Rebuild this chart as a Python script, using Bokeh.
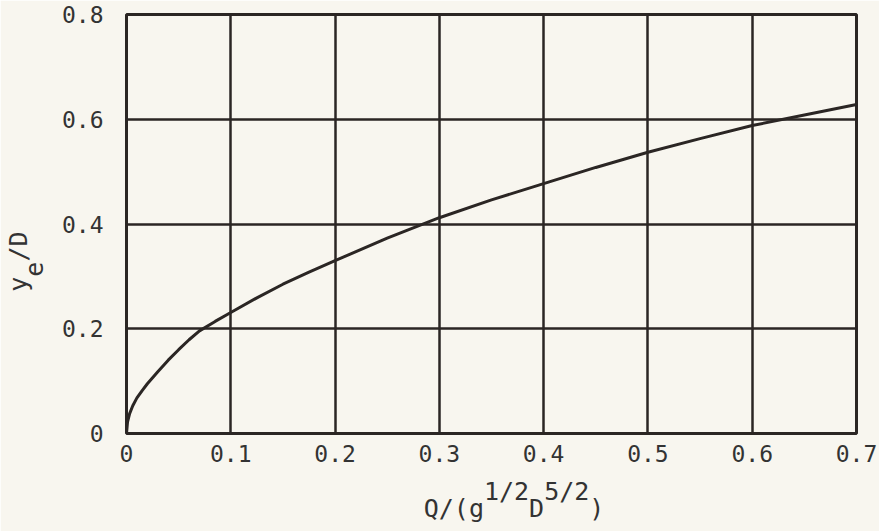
from bokeh.plotting import figure
from bokeh.models import Range1d, FixedTicker, CustomJSTickFormatter
from bokeh.embed import file_html
from bokeh.resources import INLINE

# Data
q_values = [0.0, 0.001, 0.003, 0.006, 0.01, 0.015, 0.02, 0.03, 0.04, 0.05, 0.06, 0.07,
            0.085, 0.10, 0.125, 0.15, 0.175, 0.20, 0.25, 0.30, 0.35, 0.40, 0.45,
            0.50, 0.55, 0.60, 0.65, 0.70]
ye_values = [0.0, 0.022, 0.038, 0.053, 0.068, 0.082, 0.095, 0.118, 0.140, 0.160, 0.179, 0.196,
             0.214, 0.231, 0.259, 0.285, 0.308, 0.330, 0.373, 0.412, 0.446, 0.477, 0.508,
             0.537, 0.563, 0.588, 0.608, 0.628]
x_ticks = [0.0, 0.1, 0.2, 0.3, 0.4, 0.5, 0.6, 0.7]
y_ticks = [0.0, 0.2, 0.4, 0.6, 0.8]

NB = "\u00a0"
# x title Q/(g^{1/2} D^{5/2}): superscript line above the main line (monospaced columns)
x_title_sup = NB * 3 + NB * 4 + "1/2" + NB + "5/2" + NB
x_title_main = NB * 3 + "Q/(g" + NB * 3 + "D" + NB * 3 + ")"
# y title y_e/D: main line, then subscript line (rotated)
y_title_main = "y" + NB + "/D" + NB * 5
y_title_sub = NB + "e" + NB * 2 + NB * 5

BG = "#f8f6ef"
INK = "#2b2624"
FONT = "DejaVu Sans Mono"
FS = "23px"
TFS = "25px"
TXT = "#333333"

p = figure(width=879, height=531, output_backend="svg", toolbar_location=None,
           x_range=Range1d(0, 0.7), y_range=Range1d(0, 0.8),
           min_border_left=126, min_border_right=23, min_border_top=14, min_border_bottom=98)
p.background_fill_color = BG
p.border_fill_color = BG
p.outline_line_color = INK
p.outline_line_width = 3

fmt = CustomJSTickFormatter(code="return tick == 0 ? '0' : tick.toFixed(1);")
for ax, ticks in ((p.xaxis[0], x_ticks), (p.yaxis[0], y_ticks)):
    ax.ticker = FixedTicker(ticks=ticks)
    ax.formatter = fmt
    ax.axis_line_color = None
    ax.major_tick_line_color = None
    ax.minor_tick_line_color = None
    ax.major_label_text_font = FONT
    ax.major_label_text_font_size = FS
    ax.major_label_text_color = TXT
    ax.axis_label_text_font = FONT
    ax.axis_label_text_font_size = TFS
    ax.axis_label_text_font_style = "normal"
    ax.axis_label_text_color = TXT
p.xaxis.major_label_standoff = 5
p.yaxis.major_label_standoff = 17
p.xaxis.axis_label_standoff = 12
p.yaxis.axis_label_standoff = 10

p.xaxis.axis_label = x_title_sup + "\n" + x_title_main
p.xaxis.axis_label_text_line_height = 0.6
p.yaxis.axis_label = y_title_main + "\n" + y_title_sub
p.yaxis.axis_label_text_line_height = 0.56

p.xgrid.ticker = FixedTicker(ticks=x_ticks)
p.ygrid.ticker = FixedTicker(ticks=y_ticks)
for g in (p.xgrid[0], p.ygrid[0]):
    g.grid_line_color = INK
    g.grid_line_width = 2.5
    g.grid_line_alpha = 1.0

p.line(q_values, ye_values, line_color=INK, line_width=3)

html = file_html(p, INLINE)
open("out.html", "w").write(html)
